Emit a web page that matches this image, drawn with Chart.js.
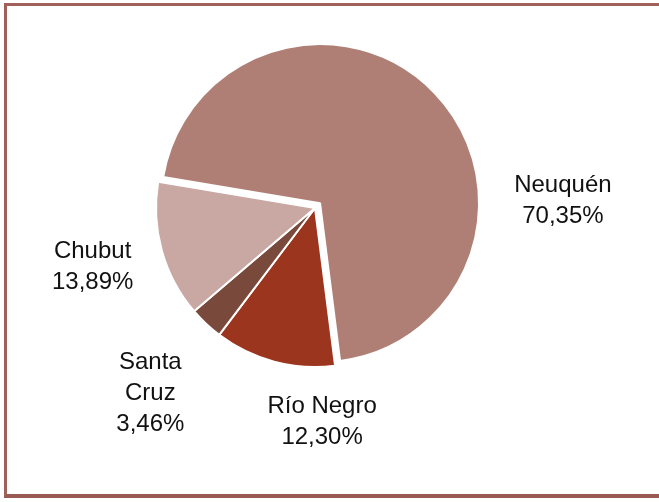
<!DOCTYPE html>
<html>
<head>
<meta charset="utf-8">
<script src="https://cdn.jsdelivr.net/npm/chart.js@4/dist/chart.umd.min.js"></script>
<style>
  html, body { margin: 0; padding: 0; background: #fff; overflow: hidden; }
  #wrap { position: relative; width: 659px; height: 502px; }
  #frame {
    position: absolute; left: 4px; top: 3px; width: 700px; height: 495px;
    border-left: 3px solid #a0615b; border-top: 3px solid #a0615b; border-bottom: 4px solid #9a5a54;
    box-sizing: border-box; pointer-events: none;
  }
  canvas { position: absolute; left: 0; top: 0; }
</style>
</head>
<body>
<div id="wrap">
  <canvas id="pie" width="659" height="502"></canvas>
  <div id="frame"></div>
</div>
<script>
// Data
const provinces = ['Neuquén', 'Río Negro', 'Santa Cruz', 'Chubut'];
const shares = [70.35, 12.30, 3.46, 13.89];
const labelLines = [['Neuquén', '70,35%'], ['Río Negro', '12,30%'], ['Santa', 'Cruz', '3,46%'], ['Chubut', '13,89%']];

// Style
const sliceColors = ['#af7f75', '#9b351d', '#794a3b', '#c9a8a4'];
const explodeBy = [7, 0, 0, 0];
// where each label sits around the pie centre: angle (deg, clockwise from 3 o'clock) and distance
const labelAngles = [-1.7, 88.1, 131.6, 165.2];
const labelDistances = [248, 214, 248, 230];

// Excel style "exploded" slice: shift the whole wedge outwards without growing it
const explodePlugin = {
    id: 'explode',
    afterUpdate(chart) {
        chart.getDatasetMeta(0).data.forEach((arc, i) => {
            if (!explodeBy[i] || arc._exploded) return;
            const draw = arc.draw;
            arc.draw = function (ctx) {
                const mid = (this.startAngle + this.endAngle) / 2;
                ctx.save();
                ctx.translate(Math.cos(mid) * explodeBy[i], Math.sin(mid) * explodeBy[i]);
                draw.call(this, ctx);
                ctx.restore();
            };
            arc._exploded = true;
        });
    }
};

const labelPlugin = {
    id: 'sliceLabels',
    afterDatasetsDraw(chart) {
        const ctx = chart.ctx;
        const arcs = chart.getDatasetMeta(0).data;
        ctx.save();
        ctx.font = '24px "Liberation Sans", Arial, sans-serif';
        ctx.fillStyle = '#111';
        ctx.textAlign = 'center';
        ctx.textBaseline = 'middle';
        arcs.forEach((arc, i) => {
            const a = labelAngles[i] * Math.PI / 180;
            const cx = arc.x + Math.cos(a) * labelDistances[i];
            const cy = arc.y + Math.sin(a) * labelDistances[i];
            const lines = labelLines[i];
            const lh = 31;
            lines.forEach((t, j) => {
                ctx.fillText(t, cx, cy + (j - (lines.length - 1) / 2) * lh);
            });
        });
        ctx.restore();
    }
};

new Chart(document.getElementById('pie'), {
    type: 'pie',
    data: {
        labels: provinces,
        datasets: [{
            data: shares,
            backgroundColor: sliceColors,
            borderColor: '#ffffff',
            borderWidth: 2
        }]
    },
    options: {
        responsive: false,
        animation: false,
        rotation: 279.5,
        radius: 159,
        layout: { padding: { left: 0, right: 29, top: 0, bottom: 86 } },
        plugins: {
            legend: { display: false },
            tooltip: { enabled: false }
        }
    },
    plugins: [explodePlugin, labelPlugin]
});
</script>
</body>
</html>
